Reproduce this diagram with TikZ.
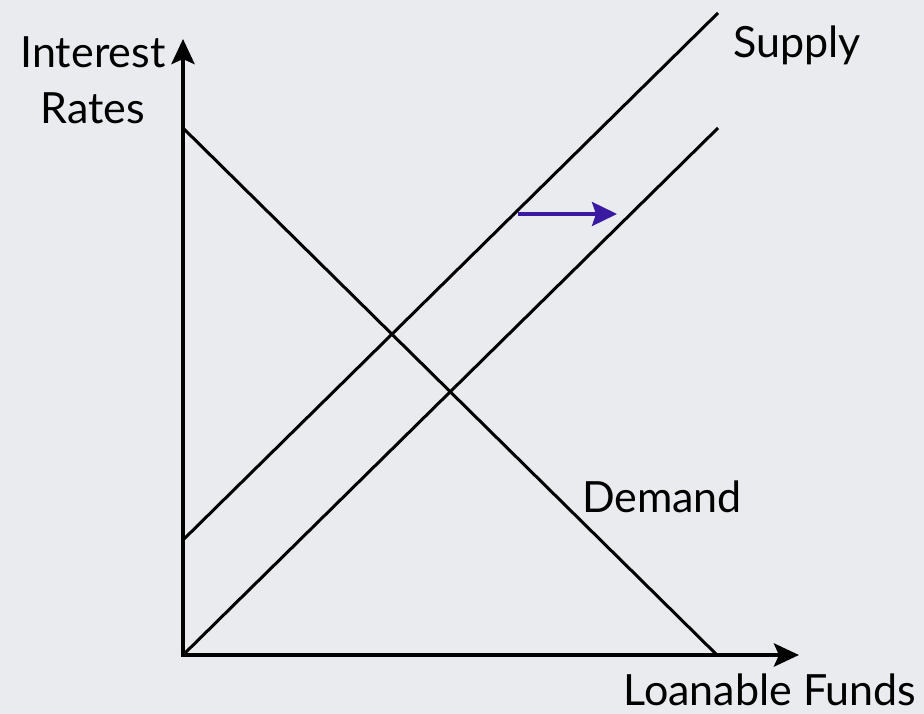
\documentclass[tikz,border=0pt]{standalone}
\usepackage{fontspec}
\setmainfont{Lato}
\usetikzlibrary{arrows.meta}
\definecolor{bg}{HTML}{EAEBEF}
\definecolor{shiftblue}{HTML}{3A1AA0}
\begin{document}
\begin{tikzpicture}[x=1pt,y=-1pt,
  axis/.style={line width=4.6pt,-{Stealth[length=25pt,width=23pt,inset=5pt]}},
  curve/.style={line width=3pt},
  lbl/.style={font=\fontsize{43}{47}\selectfont,inner sep=0pt}]
\fill[bg] (0,0) rectangle (924,714);
\useasboundingbox (0,0) rectangle (924,714);
\coordinate (O) at (183,655);
\coordinate (ytop) at (183,39);
\coordinate (xend) at (799,655);
\coordinate (d1) at (183,128);
\coordinate (d2) at (717,655);
\coordinate (s1a) at (183,540);
\coordinate (s1b) at (718,13);
\coordinate (s2a) at (183,655);
\coordinate (s2b) at (718,128);
\coordinate (ba) at (518,214);
\coordinate (bb) at (617,214);
\draw[curve] (d1) -- (d2);
\draw[curve] (s1a) -- (s1b);
\draw[curve] (s2a) -- (s2b);
\draw[axis] ([xshift=-2.3pt]O) -- (xend);
\draw[axis] ([yshift=2.3pt]O) -- (ytop);
\draw[line width=3.4pt,color=shiftblue,-{Stealth[length=25pt,width=24pt,inset=4pt]}] (ba) -- (bb);
\node[lbl] (int) at (93,52) {Interest};
\node[lbl] (rates) at (93,108) {Rates};
\node[lbl] (sup) at (797,45) {Supply};
\node[lbl] (dem) at (662,497) {Demand};
\node[lbl] (lf) at (770,690) {Loanable Funds};
\end{tikzpicture}
\end{document}
